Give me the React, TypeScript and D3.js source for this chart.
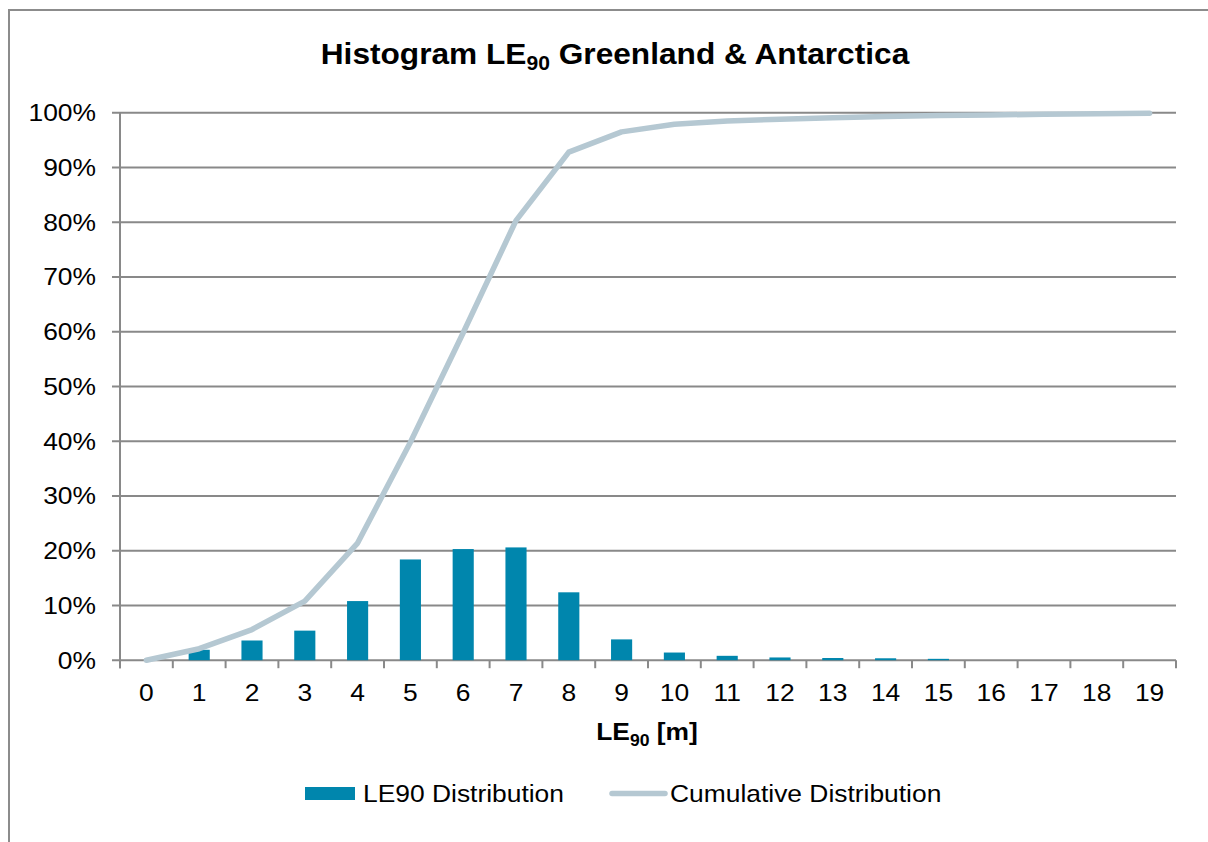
import React from "react";
import * as d3 from "d3";

const categories = ["0","1","2","3","4","5","6","7","8","9","10","11","12","13","14","15","16","17","18","19"];
const distribution = [0, 0.019, 0.036, 0.054, 0.108, 0.184, 0.203, 0.206, 0.124, 0.038, 0.014, 0.008, 0.005, 0.004, 0.0035, 0.0025, 0, 0, 0, 0];
const cumulative = [0, 0.021, 0.056, 0.108, 0.214, 0.398, 0.598, 0.803, 0.928, 0.965, 0.979, 0.985, 0.988, 0.991, 0.993, 0.995, 0.996, 0.997, 0.998, 0.999];
const yTicks = [0, 0.1, 0.2, 0.3, 0.4, 0.5, 0.6, 0.7, 0.8, 0.9, 1.0];

const BAR = "#0086ad";
const LINE = "#b5c8d2";
const GRID = "#898989";
const FONT = "'Liberation Sans', Arial, sans-serif";

const T = ({ x, y, anchor = "start", size = 24, weight = "normal", sx = 1.1, children }: any) => (
  <text
    transform={`translate(${x},${y}) scale(${sx},1)`}
    textAnchor={anchor}
    fontSize={size}
    fontWeight={weight}
    fontFamily={FONT}
    fill="#000"
  >
    {children}
  </text>
);

export default function App() {
  const left = 120, right = 1176, top = 112.7, bottom = 660.2;
  const x = d3.scaleBand<string>().domain(categories).range([left, right]).padding(0);
  const y = d3.scaleLinear().domain([0, 1]).range([bottom, top]);
  const bw = x.bandwidth();
  const cx = (c: string) => (x(c) as number) + bw / 2;
  const line = d3
    .line<number>()
    .x((_, i) => cx(categories[i]))
    .y((d) => y(d));
  const boundaries = d3.range(categories.length + 1).map((i) => left + i * bw);

  return (
    <svg
      width={1208}
      height={842}
      style={{ position: "absolute", left: 0, top: 0, background: "#fff" }}
    >
      <rect x={9} y={10} width={1240} height={860} fill="#fff" stroke="#8c8c8c" strokeWidth={2} />
      {/* title */}
      <T x={615} y={64} anchor="middle" size={30} weight="bold" sx={1.055}>
        Histogram LE
        <tspan fontSize={20} dy={6}>90</tspan>
        <tspan dy={-6}> Greenland &amp; Antarctica</tspan>
      </T>
      {/* gridlines */}
      {yTicks.map((t) => (
        <line key={t} x1={left - 8} x2={right} y1={y(t)} y2={y(t)} stroke={GRID} strokeWidth={2} />
      ))}
      {/* y axis */}
      <line x1={left} x2={left} y1={top} y2={bottom + 8} stroke={GRID} strokeWidth={2} />
      {boundaries.map((b, i) => (
        <line key={i} x1={b} x2={b} y1={bottom} y2={bottom + 8} stroke={GRID} strokeWidth={2} />
      ))}
      {yTicks.map((t) => (
        <T key={t} x={96} y={y(t) + 8.5} anchor="end">
          {`${Math.round(t * 100)}%`}
        </T>
      ))}
      {categories.map((c) => (
        <T key={c} x={cx(c)} y={701} anchor="middle">
          {c}
        </T>
      ))}
      {/* bars */}
      {distribution.map((v, i) =>
        v > 0 ? (
          <rect
            key={i}
            x={cx(categories[i]) - bw * 0.2}
            width={bw * 0.4}
            y={y(v)}
            height={bottom - y(v)}
            fill={BAR}
          />
        ) : null
      )}
      {/* cumulative line */}
      <path d={line(cumulative) || ""} fill="none" stroke={LINE} strokeWidth={5.5} strokeLinejoin="round" strokeLinecap="round" />
      {/* x title */}
      <T x={647} y={740} anchor="middle" weight="bold">
        LE
        <tspan fontSize={16} dy={6}>90</tspan>
        <tspan dy={-6}> [m]</tspan>
      </T>
      {/* legend */}
      <rect x={305} y={787} width={50} height={13} fill={BAR} />
      <T x={363} y={802}>LE90 Distribution</T>
      <line x1={612} x2={665} y1={793.5} y2={793.5} stroke={LINE} strokeWidth={5.5} strokeLinecap="round" />
      <T x={670} y={802}>Cumulative Distribution</T>
    </svg>
  );
}
